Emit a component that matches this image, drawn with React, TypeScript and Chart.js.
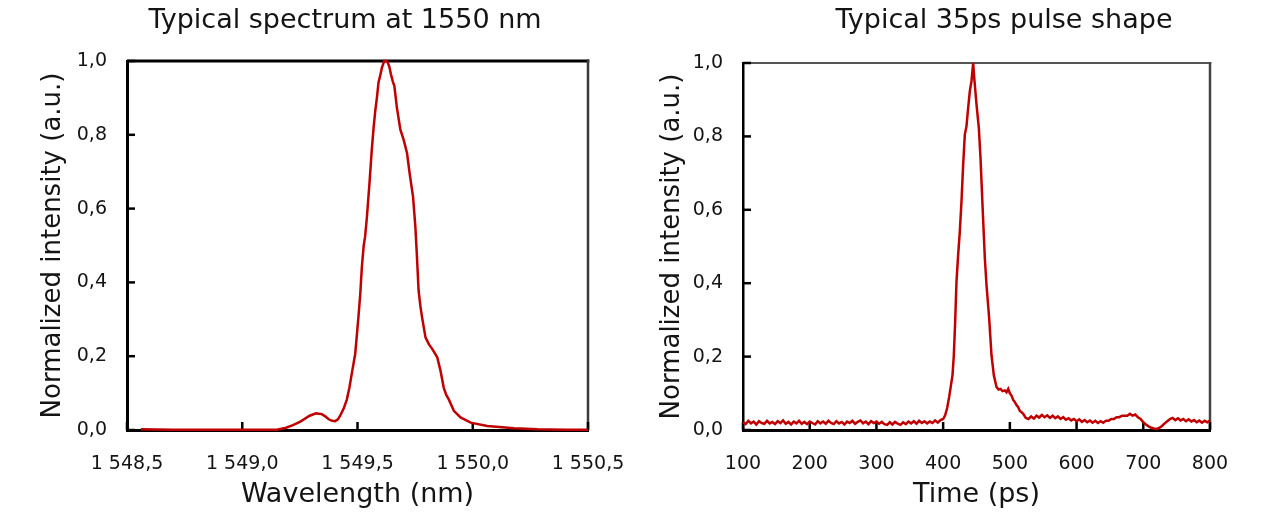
import React, { useEffect, useRef } from 'react';
import { Chart, registerables } from 'chart.js';

Chart.register(...registerables);

// ---------- data ----------
const spectrumWavelengths = [
  1548.56, 1548.7, 1548.9, 1549.1, 1549.15, 1549.19, 1549.22, 1549.25, 1549.27, 1549.29,
  1549.32, 1549.345, 1549.36, 1549.375, 1549.39, 1549.403, 1549.415, 1549.424, 1549.44, 1549.454,
  1549.465, 1549.475, 1549.49, 1549.504, 1549.512, 1549.519, 1549.527, 1549.533, 1549.541, 1549.552,
  1549.562, 1549.57, 1549.577, 1549.585, 1549.591, 1549.6, 1549.606, 1549.616, 1549.624, 1549.63,
  1549.638, 1549.645, 1549.653, 1549.66, 1549.671, 1549.686, 1549.7, 1549.715, 1549.726, 1549.741,
  1549.751, 1549.758, 1549.765, 1549.773, 1549.78, 1549.795, 1549.81, 1549.824, 1549.846, 1549.86,
  1549.874, 1549.885, 1549.896, 1549.918, 1549.947, 1549.991, 1550.063, 1550.179, 1550.281, 1550.4, 1550.5,
];
const spectrumIntensity = [
  0.002, 0.001, 0.001, 0.001, 0.001, 0.006, 0.013, 0.022, 0.03, 0.038,
  0.045, 0.043, 0.037, 0.029, 0.025, 0.024, 0.029, 0.038, 0.058, 0.083,
  0.115, 0.152, 0.206, 0.306, 0.369, 0.442, 0.5, 0.524, 0.578, 0.669,
  0.76, 0.82, 0.864, 0.905, 0.941, 0.965, 0.982, 1.0, 1.0, 0.997,
  0.985, 0.964, 0.945, 0.932, 0.873, 0.814, 0.787, 0.75, 0.696, 0.632,
  0.551, 0.469, 0.378, 0.335, 0.306, 0.251, 0.232, 0.22, 0.197, 0.161,
  0.115, 0.095, 0.083, 0.052, 0.034, 0.02, 0.011, 0.005, 0.002, 0.001, 0.001,
];

const pulseTimes = [
  100, 104, 108, 112, 116, 120, 124, 128, 132, 136,
  140, 144, 148, 152, 156, 160, 164, 168, 172, 176,
  180, 184, 188, 192, 196, 200, 204, 208, 212, 216,
  220, 224, 228, 232, 236, 240, 244, 248, 252, 256,
  260, 264, 268, 272, 276, 280, 284, 288, 292, 296,
  300, 304, 308, 312, 316, 320, 324, 328, 332, 336,
  340, 344, 348, 352, 356, 360, 364, 368, 372, 376,
  380, 384, 388, 392, 396, 400, 403, 406, 409, 412,
  414, 416, 418, 420, 422.5, 425, 427.5, 430, 432.5, 435,
  437.5, 440, 442.5, 445, 447, 450, 453.5, 456, 459, 462.5,
  465, 469, 472.5, 476, 480, 483, 486, 489, 492.5, 495,
  497.5, 500, 502.5, 505, 507.5, 510, 512.5, 515, 518, 520,
  524, 528, 532, 536, 540, 544, 548, 552, 556, 560,
  564, 568, 572, 576, 580, 584, 588, 592, 596, 600,
  604, 608, 612, 616, 620, 624, 628, 632, 636, 640,
  644, 648, 652, 656, 660, 664, 668, 672, 676, 680,
  684, 688, 692, 696, 700, 704, 708, 712, 716, 720,
  724, 728, 732, 736, 740, 744, 748, 752, 756, 760,
  764, 768, 772, 776, 780, 784, 788, 792, 796, 800,
];
const pulseIntensity = [
  0.021, 0.016, 0.025, 0.018, 0.023, 0.015, 0.024, 0.019, 0.017, 0.025,
  0.018, 0.022, 0.016, 0.024, 0.019, 0.026, 0.017, 0.022, 0.015, 0.023,
  0.018, 0.025, 0.017, 0.022, 0.016, 0.023, 0.019, 0.015, 0.024, 0.018,
  0.023, 0.017, 0.025, 0.019, 0.016, 0.024, 0.018, 0.022, 0.015, 0.023,
  0.019, 0.025, 0.017, 0.022, 0.026, 0.018, 0.023, 0.016, 0.024, 0.019,
  0.023, 0.017, 0.022, 0.016, 0.014, 0.021, 0.015, 0.022, 0.017, 0.014,
  0.021, 0.016, 0.023, 0.018, 0.024, 0.017, 0.025, 0.019, 0.024, 0.018,
  0.023, 0.019, 0.026, 0.02, 0.027, 0.03, 0.04, 0.06, 0.09, 0.125,
  0.149, 0.203, 0.294, 0.404, 0.477, 0.541, 0.623, 0.723, 0.805, 0.828,
  0.878, 0.923, 0.951, 1.0, 0.951, 0.887, 0.823, 0.741, 0.613, 0.468,
  0.395, 0.304, 0.203, 0.149, 0.117, 0.11, 0.112, 0.106, 0.108, 0.103,
  0.112, 0.1, 0.094, 0.082, 0.076, 0.068, 0.062, 0.052, 0.048, 0.044,
  0.033, 0.03, 0.037, 0.031, 0.039, 0.034, 0.041, 0.035, 0.04, 0.033,
  0.039, 0.032, 0.037, 0.03, 0.035, 0.028, 0.032, 0.026, 0.03, 0.024,
  0.029, 0.022, 0.027, 0.021, 0.026, 0.02, 0.025, 0.019, 0.024, 0.02,
  0.025, 0.025, 0.03, 0.03, 0.035, 0.035, 0.039, 0.039, 0.039, 0.044,
  0.039, 0.042, 0.035, 0.03, 0.021, 0.015, 0.01, 0.006, 0.004, 0.003,
  0.006, 0.011, 0.018, 0.024, 0.03, 0.033, 0.027, 0.032, 0.026, 0.03,
  0.024, 0.029, 0.023, 0.027, 0.021, 0.026, 0.02, 0.025, 0.021, 0.026,
];

const wavelengthTickLabels = ['1 548,5', '1 549,0', '1 549,5', '1 550,0', '1 550,5'];
const timeTickLabels = ['100', '200', '300', '400', '500', '600', '700', '800'];
const intensityTickLabels = ['0,0', '0,2', '0,4', '0,6', '0,8', '1,0'];

// ---------- style ----------
const FONT = "'DejaVu Sans', sans-serif";
const TEXT = '#141414';
const RED = '#c00000';
const H = 519;

const framePlugin = {
  id: 'frame',
  beforeDatasetsDraw(chart: any, _args: any, opts: any) {
    const { ctx, chartArea, scales } = chart;
    const { left, right, top, bottom } = chartArea;
    ctx.save();
    ctx.lineCap = 'butt';
    ctx.strokeStyle = opts.topColor;
    ctx.lineWidth = opts.topWidth;
    ctx.beginPath();
    ctx.moveTo(left, top);
    ctx.lineTo(right + opts.rightWidth / 2, top);
    ctx.stroke();
    ctx.strokeStyle = opts.rightColor;
    ctx.lineWidth = opts.rightWidth;
    ctx.beginPath();
    ctx.moveTo(right, top - opts.topWidth / 2);
    ctx.lineTo(right, bottom);
    ctx.stroke();
    ctx.strokeStyle = '#000';
    ctx.lineWidth = opts.tickWidth;
    const len = opts.tickLength;
    scales.x.ticks.forEach((t: any) => {
      const px = scales.x.getPixelForValue(t.value);
      ctx.beginPath();
      ctx.moveTo(px, bottom);
      ctx.lineTo(px, bottom - len);
      ctx.stroke();
    });
    scales.y.ticks.forEach((t: any) => {
      const py = scales.y.getPixelForValue(t.value);
      ctx.beginPath();
      ctx.moveTo(left, py);
      ctx.lineTo(left + len, py);
      ctx.stroke();
    });
    ctx.restore();
  },
  afterDraw(chart: any, _args: any, opts: any) {
    const { ctx } = chart;
    ctx.save();
    ctx.font = `${opts.titleSize}px ${FONT}`;
    ctx.fillStyle = TEXT;
    ctx.textAlign = 'center';
    ctx.textBaseline = 'middle';
    ctx.fillText(opts.title, opts.titleX, opts.titleY);
    ctx.restore();
  },
};

type PanelSpec = {
  left: number;
  width: number;
  title: string;
  titleX: number;
  xs: number[];
  ys: number[];
  xMin: number;
  xMax: number;
  xStep: number;
  xLabels: string[];
  xTitle: string;
  areaLeft: number;
  areaRight: number;
  areaTop: number;
  areaBottom: number;
  yTitlePad: number;
  lineWidth: number;
  topColor: string;
  topWidth: number;
  rightColor: string;
  rightWidth: number;
  axisWidth: number;
};

function buildConfig(s: PanelSpec): any {
  const data = s.xs.map((x, i) => ({ x, y: s.ys[i] }));
  return {
    type: 'line',
    data: {
      datasets: [
        {
          data,
          borderColor: RED,
          borderWidth: s.lineWidth,
          pointRadius: 0,
          tension: 0,
          fill: false,
          clip: 6,
        },
      ],
    },
    plugins: [framePlugin],
    options: {
      animation: false,
      responsive: false,
      devicePixelRatio: 1,
      layout: {
        padding: { top: s.areaTop, right: s.width - s.areaRight, left: 0, bottom: 0 },
      },
      plugins: {
        legend: { display: false },
        tooltip: { enabled: false },
        title: { display: false },
        frame: {
          title: s.title,
          titleX: s.titleX,
          titleY: 21,
          titleSize: 27,
          topColor: s.topColor,
          topWidth: s.topWidth,
          rightColor: s.rightColor,
          rightWidth: s.rightWidth,
          tickWidth: 2.5,
          tickLength: 8,
        },
      },
      scales: {
        x: {
          type: 'linear',
          min: s.xMin,
          max: s.xMax,
          afterFit: (sc: any) => {
            sc.height = H - s.areaBottom;
            sc.paddingLeft = 0;
            sc.paddingRight = 0;
          },
          grid: { display: false, drawTicks: false },
          border: { display: true, color: '#000', width: 3 },
          ticks: {
            stepSize: s.xStep,
            autoSkip: false,
            maxRotation: 0,
            padding: 23,
            color: TEXT,
            font: { family: FONT, size: 19 },
            callback: (_v: any, i: number) => s.xLabels[i],
          },
          title: {
            display: true,
            text: s.xTitle,
            color: TEXT,
            font: { family: FONT, size: 27 },
            padding: { top: 0, bottom: 8 },
          },
        },
        y: {
          type: 'linear',
          min: 0,
          max: 1,
          afterFit: (sc: any) => {
            sc.width = s.areaLeft;
            sc.paddingTop = 0;
            sc.paddingBottom = 0;
          },
          grid: { display: false, drawTicks: false },
          border: { display: true, color: '#000', width: s.axisWidth },
          ticks: {
            stepSize: 0.2,
            autoSkip: false,
            padding: 20,
            color: TEXT,
            font: { family: FONT, size: 19 },
            callback: (_v: any, i: number) => intensityTickLabels[i],
          },
          title: {
            display: true,
            text: 'Normalized intensity (a.u.)',
            color: TEXT,
            font: { family: FONT, size: 26 },
            padding: { top: s.yTitlePad, bottom: 0 },
          },
        },
      },
    },
  };
}

const leftPanel: PanelSpec = {
  left: 0,
  width: 632,
  title: 'Typical spectrum at 1550 nm',
  titleX: 345,
  xs: spectrumWavelengths,
  ys: spectrumIntensity,
  xMin: 1548.5,
  xMax: 1550.5,
  xStep: 0.5,
  xLabels: wavelengthTickLabels,
  xTitle: 'Wavelength (nm)',
  areaLeft: 127,
  areaRight: 588,
  areaTop: 61,
  areaBottom: 430,
  yTitlePad: 38,
  lineWidth: 2.5,
  topColor: '#000',
  topWidth: 3,
  rightColor: '#3a3a3a',
  rightWidth: 2.5,
  axisWidth: 3,
};

const rightPanel: PanelSpec = {
  left: 632,
  width: 633,
  title: 'Typical 35ps pulse shape',
  titleX: 372,
  xs: pulseTimes,
  ys: pulseIntensity,
  xMin: 100,
  xMax: 800,
  xStep: 100,
  xLabels: timeTickLabels,
  xTitle: 'Time (ps)',
  areaLeft: 111,
  areaRight: 578,
  areaTop: 63,
  areaBottom: 430,
  yTitlePad: 25,
  lineWidth: 2.5,
  topColor: '#555',
  topWidth: 2,
  rightColor: '#444',
  rightWidth: 2.5,
  axisWidth: 2.5,
};

function Panel({ spec }: { spec: PanelSpec }) {
  const ref = useRef<HTMLCanvasElement>(null);
  useEffect(() => {
    if (!ref.current) return;
    const chart = new Chart(ref.current, buildConfig(spec));
    return () => chart.destroy();
  }, [spec]);
  return (
    <canvas
      ref={ref}
      width={spec.width}
      height={H}
      style={{ position: 'absolute', left: spec.left, top: 0, width: spec.width, height: H }}
    />
  );
}

export default function App() {
  return (
    <div style={{ position: 'absolute', left: 0, top: 0, width: 1265, height: H, background: '#fff' }}>
      <Panel spec={leftPanel} />
      <Panel spec={rightPanel} />
    </div>
  );
}
